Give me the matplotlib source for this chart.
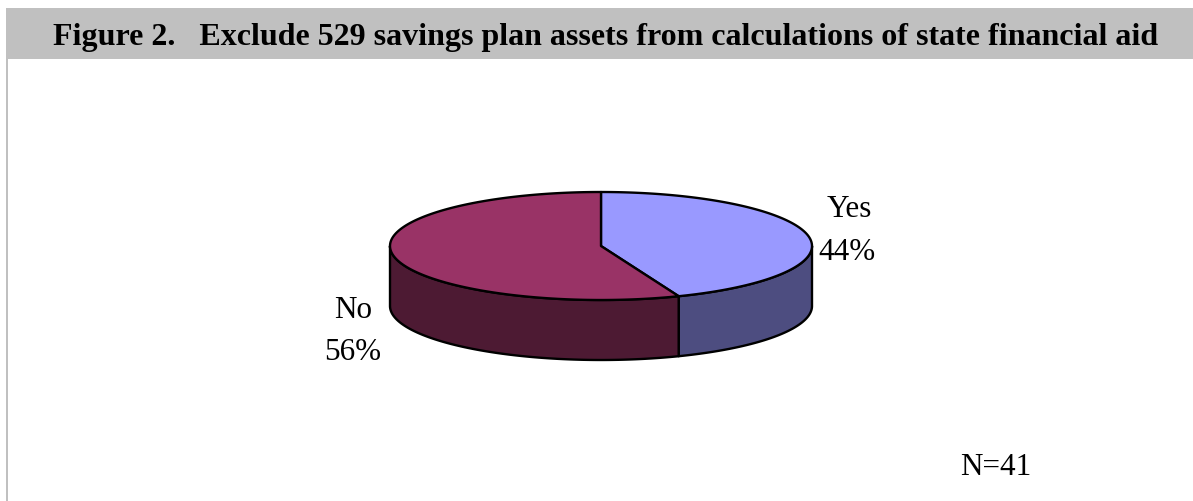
import numpy as np
import matplotlib.pyplot as plt
from matplotlib.patches import Polygon, Rectangle

labels = ['Yes', 'No']
shares = [44, 56]
top_colors = ['#9999FF', '#993366']
side_colors = ['#4D4D80', '#4D1A33']

title = 'Figure 2.   Exclude 529 savings plan assets from calculations of state financial aid'
note = 'N=41'

plt.rcParams['font.family'] = ['Liberation Serif', 'DejaVu Serif']

fig = plt.figure(figsize=(11.93, 5.02), dpi=100)
ax = fig.add_axes([0, 0, 1, 1])
ax.set_xlim(0, 1193)
ax.set_ylim(502, 0)
ax.axis('off')

# header band and left rule
ax.add_patch(Rectangle((6, 8.5), 1187, 51, facecolor='#C0C0C0', edgecolor='none'))
ax.add_patch(Rectangle((6, 8.5), 2, 494, facecolor='#C0C0C0', edgecolor='none'))
ax.text(606, 37, title, fontsize=23.05, fontweight='bold', ha='center', va='center', color='black')

# flattened 3D pie
cx, cy = 601, 247
rx, ry = 211, 54
depth = 60


def rim(a, b):
    t = np.radians(np.linspace(a, b, 200))
    return cx + rx * np.cos(t), cy - ry * np.sin(t)


start = 90
for label, share, top, side in zip(labels, shares, top_colors, side_colors):
    end = start - share * 3.6
    xs, ys = rim(start, end)
    ax.add_patch(Polygon(np.r_[[[cx, cy]], np.c_[xs, ys]], closed=True, facecolor=top,
                         edgecolor='black', linewidth=1.7, joinstyle='round', zorder=3))

    # the wall only shows on the front half of the rim
    a = min(start, 0)
    b = max(end, -180)
    if a > b:
        xs, ys = rim(a, b)
        wall = np.r_[np.c_[xs, ys], np.c_[xs[::-1], ys[::-1] + depth]]
        ax.add_patch(Polygon(wall, closed=True, facecolor=side, edgecolor='black',
                             linewidth=1.7, joinstyle='round', zorder=2))
    start = end

ax.text(849, 210, labels[0], fontsize=22.4, ha='center', va='center')
ax.text(847, 252, f'{shares[0]}%', fontsize=22.4, ha='center', va='center')
ax.text(353, 311, labels[1], fontsize=22.4, ha='center', va='center')
ax.text(353, 353, f'{shares[1]}%', fontsize=22.4, ha='center', va='center')
ax.text(960, 468, note, fontsize=22.4, ha='left', va='center')

fig.savefig('out.png', dpi=100)
